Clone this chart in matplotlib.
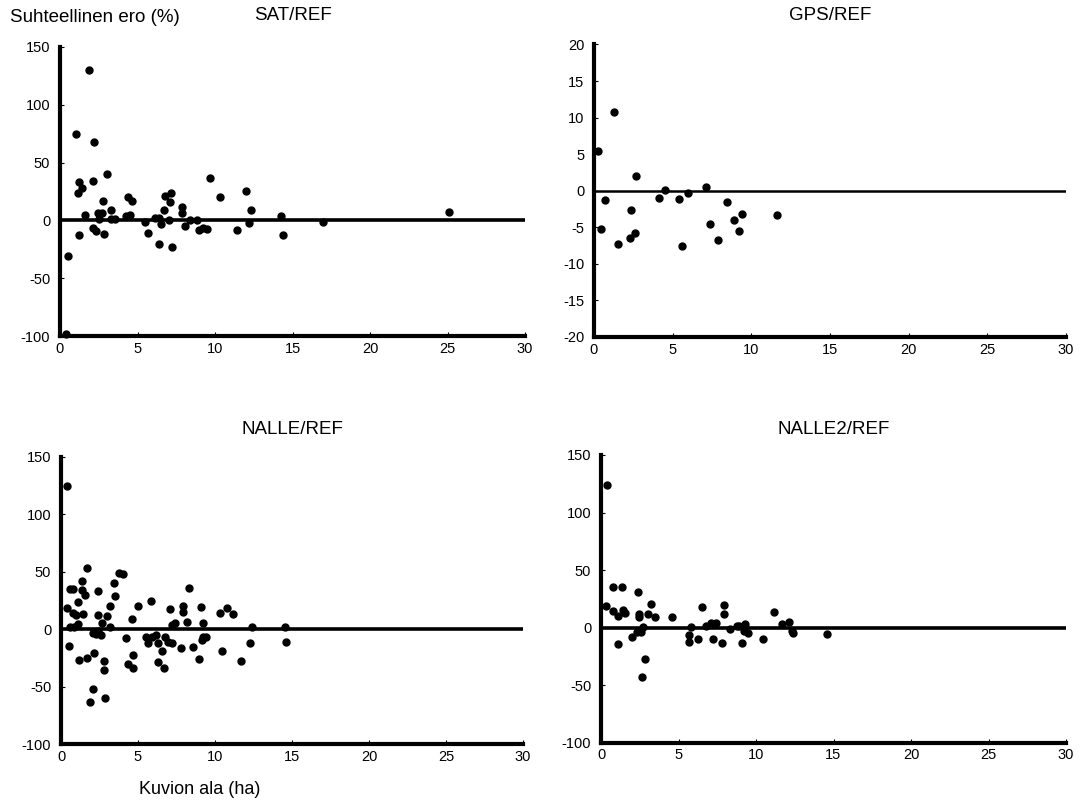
import matplotlib
matplotlib.use("Agg")
import matplotlib.pyplot as plt

plt.rcParams['font.family'] = ['Liberation Sans', 'DejaVu Sans']
plt.rcParams['axes.unicode_minus'] = False

# SAT/REF
sat_x = [1.9, 1.0, 2.2, 0.5, 0.4, 1.2, 1.45, 1.17, 2.14, 3.06, 1.62, 1.2, 2.1, 2.35, 2.84,
         2.48, 2.69, 2.52, 2.8, 3.27, 3.27, 3.53, 4.23, 4.49, 4.4, 4.66, 5.47, 5.68, 6.15,
         6.4, 6.54, 6.37, 6.68, 6.79, 7.18, 7.12, 7.05, 7.22, 7.86, 7.86, 8.07, 8.4, 8.83,
         8.97, 9.25, 9.47, 9.7, 10.3, 11.45, 12.0, 12.3, 12.2, 14.27, 14.38, 16.95, 25.1]
sat_y = [130, 75, 68, -31, -98, 33, 28, 24, 34, 40, 5, -13, -7, -9.5, -12,
         6, 6, 1, 17, 9, 1, 1, 3.5, 5, 20, 17, -1.5, -11, 2.3,
         2.3, -3, -20.5, 9.3, 21.4, 23.7, 16.2, 0.6, -22.8, 12, 6.4, -4.6, 0, 0,
         -8, -6.6, -7.5, 36.5, 20, -8, 25, 9.3, -2.3, 3.5, -13, -1.7, 7]

# GPS/REF
gps_x = [0.26, 1.28, 2.67, 0.68, 0.43, 1.5, 2.35, 2.3, 2.6, 4.1, 4.5, 5.4, 5.6, 6.0,
         7.1, 7.4, 7.9, 8.44, 8.9, 9.2, 9.4, 11.6]
gps_y = [5.5, 10.8, 2.0, -1.2, -5.2, -7.3, -2.7, -6.5, -5.8, -1.0, 0.05, -1.1, -7.5, -0.3,
         0.5, -4.6, -6.7, -1.5, -4.0, -5.5, -3.2, -3.3]

# NALLE/REF
nalle_x = [0.37, 1.7, 1.38, 0.58, 0.8, 1.34, 1.56, 1.12, 2.38, 3.79, 4.0, 3.46, 3.5, 3.2,
           0.37, 0.76, 0.95, 1.43, 2.42, 3.0, 1.12, 0.6, 0.85, 2.64, 3.18, 2.1, 2.3, 2.6,
           2.4, 4.6, 5.02, 5.82, 4.22, 0.54, 2.14, 1.17, 1.67, 2.8, 2.79, 2.06, 1.88, 2.88,
           4.7, 4.37, 4.7, 5.52, 5.89, 6.2, 5.67, 6.28, 6.54, 6.75, 6.97, 7.19, 6.32, 6.69,
           7.08, 7.19, 7.4, 7.9, 7.94, 8.2, 8.31, 7.79, 8.55, 8.96, 9.07, 9.13, 9.24, 9.24,
           10.3, 10.8, 11.15, 9.42, 10.47, 11.67, 12.42, 12.3, 14.55, 14.6]
nalle_y = [124.6, 53, 42.3, 35, 35, 34, 29.8, 24, 33.3, 48.7, 47.8, 40, 29.2, 20.3,
           18.8, 13.9, 12.4, 13, 12.4, 11.8, 4.6, 2, 2, 5.2, 2.3, -3.5, -4, -5,
           -2, 8.7, 20.3, 24.9, -7.8, -14.2, -20.3, -26.7, -25.2, -27.3, -35.7, -52.2, -63, -60,
           -22.3, -30.4, -33.4, -6.4, -6.4, -5, -12.2, -12.2, -18.9, -6.4, -10.8, -12.2, -29, -33.4,
           17.4, 3.7, 5.2, 20.5, 15.3, 6.6, 36.2, -16, -15.1, -25.8, 19.7, -9.3, -6.4, 5.7,
           14.4, 18.3, 13, -7, -18.9, -27.3, 2.3, -11.6, 2.3, -10.8]

# NALLE2/REF
nalle2_x = [0.37, 0.32, 0.8, 1.33, 0.8, 1.12, 1.44, 1.55, 1.12, 2.37, 2.45, 2.45, 3.01, 3.23,
            3.48, 2.02, 2.3, 2.58, 2.73, 2.84, 2.66, 4.56, 5.8, 5.7, 5.7, 6.28, 6.54, 6.75,
            7.1, 7.42, 7.25, 7.79, 7.96, 7.96, 8.34, 8.75, 8.9, 9.29, 9.12, 9.25, 9.46, 10.47,
            11.18, 11.66, 12.13, 12.3, 12.4, 14.56]
nalle2_y = [124, 18.9, 35.5, 35.5, 14.8, 10.2, 15.4, 12.5, -14.4, 31, 9.6, 11.6, 11.6, 20.3,
            9, -7.8, -3.5, -3.5, 0.9, -27.2, -43, 9, 0.9, -6.3, -12.2, -10.1, 17.7, 1.7,
            4.3, 4.3, -9.6, -13, 19.7, 11.6, -1.4, 1.7, 1.7, 3.2, -13, -2.9, -4.3, -9.8,
            13.9, 3, 4.7, -2.9, -4.9, -5.5]

W, H = 1083, 811
fig = plt.figure(figsize=(W / 100, H / 100), dpi=100)


def px_axes(x0, x1, ytop, ybot):
    return fig.add_axes([x0 / W, 1 - ybot / H, (x1 - x0) / W, (ybot - ytop) / H])


def style(ax, ylim, yticks, zero_lw):
    ax.set_xlim(0, 30)
    ax.set_ylim(*ylim)
    ax.set_xticks(range(0, 31, 5))
    ax.set_yticks(yticks)
    ax.axhline(0, color='black', lw=zero_lw, zorder=1)
    for s in ('top', 'right'):
        ax.spines[s].set_visible(False)
    for s in ('left', 'bottom'):
        ax.spines[s].set_linewidth(3)
    ax.tick_params(direction='in', length=3, width=0.8, labelsize=10.5, colors='black')
    ax.tick_params(axis='y', pad=7)
    ax.tick_params(axis='x', pad=4)


panels = [
    (px_axes(60, 525, 47, 336), sat_x, sat_y, (-100, 150), range(-100, 151, 50), 2.6, 'SAT/REF', 15),
    (px_axes(594, 1066, 44.5, 337), gps_x, gps_y, (-20, 20), range(-20, 21, 5), 1.8, 'GPS/REF', 15),
    (px_axes(61, 523, 457, 744), nalle_x, nalle_y, (-100, 150), range(-100, 151, 50), 2.6, 'NALLE/REF', 430),
    (px_axes(601, 1066, 455, 742.7), nalle2_x, nalle2_y, (-100, 150), range(-100, 151, 50), 2.6, 'NALLE2/REF', 430),
]

for ax, xs, ys, ylim, yt, zlw, title, ty in panels:
    style(ax, ylim, yt, zlw)
    ax.plot(xs, ys, 'o', color='black', ms=5, clip_on=False, zorder=3)
    pos = ax.get_position()
    fig.text(pos.x0 + pos.width / 2, 1 - ty / H, title, ha='center', va='center', fontsize=13.5)

fig.text(10 / W, 1 - 17 / H, 'Suhteellinen ero (%)', ha='left', va='center', fontsize=13.5)
fig.text(200 / W, 1 - 790 / H, 'Kuvion ala (ha)', ha='center', va='center', fontsize=13)

fig.savefig('out.png', dpi=100)
